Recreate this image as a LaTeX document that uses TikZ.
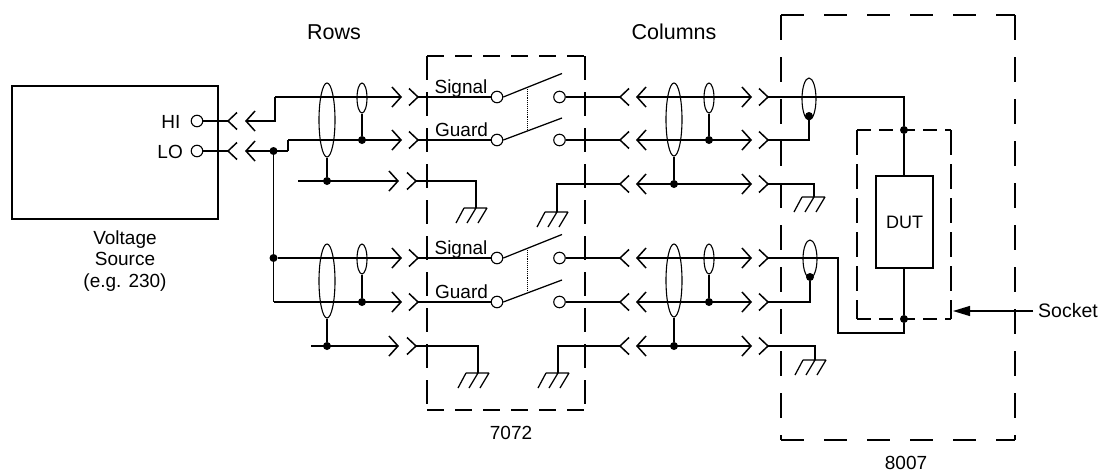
\documentclass[tikz,border=0pt]{standalone}
\usepackage{fontspec}
\setmainfont{Liberation Sans}
\usetikzlibrary{arrows.meta,shapes.geometric}
\newcommand\fs[1]{\fontsize{#1}{21.7}\selectfont}
\tikzset{
  x=1pt,y=-1pt,
  wire/.style={line width=1.25pt,line join=miter},
  plug/.style={wire,-{Straight Barb[length=9pt,width=20pt,line width=1.5pt]}},
  plugs/.style={wire,{Straight Barb[length=9pt,width=20pt,line width=1.5pt]}-{Straight Barb[length=9pt,width=20pt,line width=1.5pt]}},
  term/.style={circle,draw,line width=1.1pt,fill=white,minimum size=11.5pt,inner sep=0pt},
  dot/.style={circle,fill=black,minimum size=8pt,inner sep=0pt},
  shield/.style={ellipse,draw,line width=1.1pt,inner sep=0pt,minimum width=#1},
  bigdash/.style={line width=1.25pt,dash pattern=on 23pt off 20pt},
  middash/.style={line width=1.25pt,dash pattern=on 17pt off 11pt},
  lab/.style={inner sep=0pt,font=\fs{19},anchor=base},
  title/.style={inner sep=0pt,font=\fs{21.5},anchor=base},
  chevr/.pic={\draw[line width=1.5pt] (-9,-8.5)--(0,0)--(-9,8.5);},
  chevl/.pic={\draw[line width=1.5pt] (9,-8.5)--(0,0)--(9,8.5);},
  earth/.pic={\draw[wire] (-12,0)--(11,0) (-12,0)--(-20,15) (0,0)--(-9,15) (11,0)--(2,15);}
}
% one row group: #1 name, #2 #3 signal/guard y, #4 left shield-row y, #5 right shield-row y, #6 left start x
\newcommand\grp[6]{%
  \node[shield=16pt,minimum height=74pt] (#1bl) at (327,#2+23) {};
  \node[shield=10pt,minimum height=30pt] (#1sl) at (362,#2+1) {};
  \node[dot] (#1dsl) at (362,#3) {};
  \node[dot] (#1dbl) at (327,#4) {};
  \draw[wire] (#1sl.south) -- (#1dsl);
  \draw[wire] (#1bl.south) -- (#1dbl);
  \coordinate (#1A) at (402,#2); \coordinate (#1B) at (402,#3);
  \coordinate (#1C) at (399,#4); \coordinate (#1Cs) at (#6,#4);
  \draw[plug] (#1Cs) -- (#1C);
  \pic at (418,#2) {chevr}; \pic at (418,#3) {chevr}; \pic at (416,#4) {chevr};
  \node[term] (#1t1) at (497,#2) {};
  \node[term] (#1t2) at (497,#3) {};
  \node[term] (#1t3) at (559.5,#2) {};
  \node[term] (#1t4) at (559.5,#3) {};
  \coordinate (#1p1) at (418,#2); \coordinate (#1p2) at (418,#3);
  \draw[wire] (#1p1) -- (#1t1);
  \draw[wire] (#1p2) -- (#1t2);
  \coordinate (#1arm1) at (562,#2-23.5); \coordinate (#1arm2) at (562,#3-22);
  \draw[wire] (#1t1.east) -- (#1arm1);
  \draw[wire] (#1t2.east) -- (#1arm2);
  \coordinate (#1l1) at (527,#2-10); \coordinate (#1l2) at (527,#3-11);
  \draw[line width=.9pt,densely dotted] (#1l1) -- (#1l2);
  \node[lab] (#1sig) at (461,#2-4) {Signal};
  \node[lab] (#1gua) at (461.5,#3-4) {Guard};
  \coordinate (#1q1) at (620,#2); \coordinate (#1q2) at (620,#3); \coordinate (#1q3) at (620,#5);
  \draw[wire] (#1t3) -- (#1q1);
  \draw[wire] (#1t4) -- (#1q2);
  \pic at (620,#2) {chevl}; \pic at (620,#3) {chevl}; \pic at (620,#5) {chevl};
  \coordinate (#1L1) at (636,#2); \coordinate (#1L2) at (636,#3); \coordinate (#1L3) at (636,#5);
  \coordinate (#1R1) at (752,#2); \coordinate (#1R2) at (752,#3); \coordinate (#1R3) at (752,#5);
  \draw[plugs] (#1L1) -- (#1R1);
  \draw[plugs] (#1L2) -- (#1R2);
  \draw[plugs] (#1L3) -- (#1R3);
  \node[shield=16pt,minimum height=73pt] (#1br) at (674,#2+22.5) {};
  \node[shield=10pt,minimum height=30pt] (#1sr) at (709,#2+1) {};
  \node[dot] (#1dsr) at (709,#3) {};
  \node[dot] (#1dbr) at (674,#5) {};
  \draw[wire] (#1sr.south) -- (#1dsr);
  \draw[wire] (#1br.south) -- (#1dbr);
  \pic at (768,#2) {chevr}; \pic at (768,#3) {chevr}; \pic at (768,#5) {chevr};
  \coordinate (#1o1) at (768,#2); \coordinate (#1o2) at (768,#3); \coordinate (#1o3) at (768,#5);
}
\begin{document}
\begin{tikzpicture}
\useasboundingbox (0,0) rectangle (1100,472);
\fill[white] (0,0) rectangle (1100,472);
% titles
\node[title] (rows) at (334,39) {Rows};
\node[title] (cols) at (674,39) {Columns};
\node[lab] (n7072) at (511,439) {7072};
\node[lab] (n8007) at (906,469) {8007};
\node[inner sep=0pt,font=\fs{19},align=center] (vs) at (125,261) {Voltage\\Source\\(e.g. 230)};
% source
\node[draw,line width=1.3pt,minimum width=206pt,minimum height=133pt,inner sep=0pt] (src) at (115,152.5) {};
\node[lab,anchor=base east] (hi) at (180.5,128) {HI};
\node[lab,anchor=base east] (lo) at (183,158.5) {LO};
\node[term] (thi) at (197,121) {};
\node[term] (tlo) at (197,151) {};
\coordinate (shi) at (228,121); \coordinate (slo) at (228,151);
\draw[wire] (thi) -- (shi);
\draw[wire] (tlo) -- (slo);
\pic at (228,121) {chevl}; \pic at (228,151) {chevl};
% groups
\grp{u}{97}{140}{181}{184}{298}
\grp{d}{258}{302}{346}{346}{311}
% HI / LO routing
\coordinate (ahi) at (245,121); \coordinate (alo) at (245,151);
\coordinate (bend1) at (275,121); \coordinate (bend2) at (275,97);
\node[dot] (j1) at (273.5,151) {};
\node[dot] (j2) at (273.5,258) {};
\coordinate (step1) at (288,151); \coordinate (step2) at (288,140);
\coordinate (jb) at (273.5,302);
\draw[plug] (bend2) -- (uA);
\draw[plug] (bend2) -- (bend1) -- (ahi);
\draw[plug] (step1) -- (alo);
\draw[wire] (step1) -- (step2);
\draw[plug] (step2) -- (uB);
\draw[wire] (j1) -- (j2);
\draw[wire] (j2) -- (jb);
\draw[plug] (j2) -- (dA);
\draw[plug] (jb) -- (dB);
% 7072 grounds
\coordinate (g1) at (476,208); \coordinate (g2) at (557,212);
\coordinate (g3) at (478,373); \coordinate (g4) at (558,373);
\coordinate (u3l) at (416,181); \coordinate (u3r) at (620,184);
\coordinate (d3l) at (416,346); \coordinate (d3r) at (620,346);
\draw[wire] (u3l) -| (g1);
\draw[wire] (u3r) -| (g2);
\draw[wire] (d3l) -| (g3);
\draw[wire] (d3r) -| (g4);
\pic at (g1) {earth}; \pic at (g2) {earth}; \pic at (g3) {earth}; \pic at (g4) {earth};
% 7072 box
\draw[middash] (427,56) -- (585,56) (427,410) -- (585,410);
\draw[line width=1.25pt,dash pattern=on 24pt off 12pt] (427,56) -- (427,410) (585,56) -- (585,410);
% 8007 box
\draw[bigdash] (781,15) -- (1015,15) (781,440) -- (1015,440);
\draw[line width=1.25pt,dash pattern=on 25pt off 17pt] (781,15) -- (781,440) (1015,15) -- (1015,440);
% socket box
\draw[line width=1.25pt,dash pattern=on 14pt off 8pt] (857,130) -- (951,130) (857,319) -- (951,319);
\draw[line width=1.25pt,dash pattern=on 25pt off 9pt] (857,130) -- (857,319) (951,130) -- (951,319);
% DUT
\node[draw,line width=1.3pt,minimum width=57pt,minimum height=92pt,inner sep=0pt,font=\fs{18}] (dut) at (904.5,222) {DUT};
\node[dot] (jt) at (904,130) {};
\node[dot] (jb2) at (904,319) {};
\coordinate (c1) at (904,97);
\draw[wire] (uo1) -- (c1) -- (jt);
\draw[wire] (jt) -- (jt|-dut.north);
\draw[wire] (jb2|-dut.south) -- (jb2);
\coordinate (c2) at (904,333); \coordinate (c3) at (838,333); \coordinate (c4) at (838,258);
\draw[wire] (jb2) -- (c2) -- (c3) -- (c4) -- (do1);
% 8007 shields
\node[shield=14pt,minimum height=42pt] (us8) at (809,99) {};
\node[shield=14pt,minimum height=38pt] (ds8) at (810,259) {};
\node[dot] (ud8) at (809,116) {};
\node[dot] (dd8) at (810,277) {};
\coordinate (ub8) at (809,140); \coordinate (db8) at (810,302);
\draw[wire] (ud8) -- (ub8) -- (uo2);
\draw[wire] (dd8) -- (db8) -- (do2);
% 8007 grounds
\coordinate (g5) at (814,197); \coordinate (g6) at (815,360);
\draw[wire] (uo3) -| (g5);
\draw[wire] (do3) -| (g6);
\pic at (g5) {earth}; \pic at (g6) {earth};
% socket label
\node[inner sep=0pt,font=\fs{19.5},anchor=base west] (sock) at (1038,317) {Socket};
\coordinate (sockp) at (953,311);
\coordinate (sockq) at (1033,311);
\draw[wire,-{Triangle[length=17pt,width=10pt]}] (sockq) -- (sockp);
\end{tikzpicture}
\end{document}
